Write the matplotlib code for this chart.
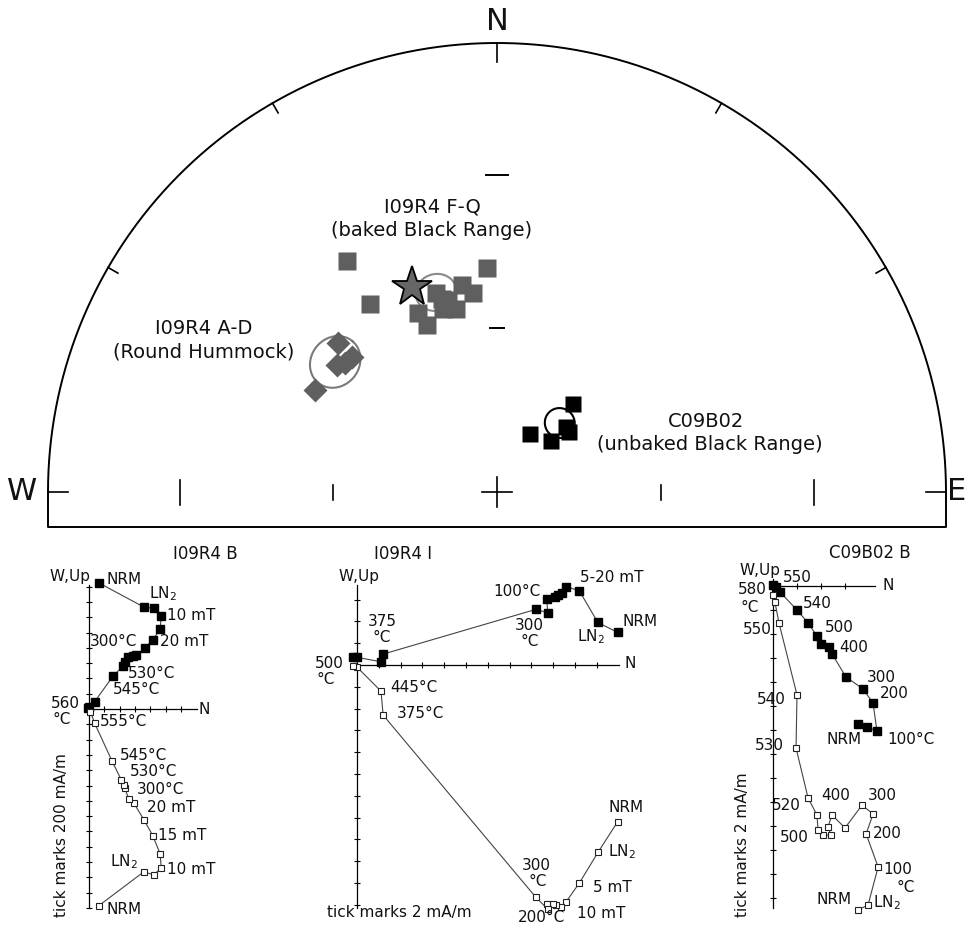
import numpy as np
import matplotlib
matplotlib.use('Agg')
import matplotlib.pyplot as plt

W, H = 968, 932
plt.rcParams['font.family'] = ['DejaVu Sans']

# ---------------- stereonet data (declination, inclination; deg) ----------------
fq_dec = [327.0, 326.0, 357.5, 343.0, 344.0, 350.4, 353.2, 336.2, 337.2, 343.6, 347.4, 345.7]
fq_inc = [38.6, 48.2, 48.6, 51.8, 53.2, 51.4, 53.2, 54.1, 56.9, 55.0, 55.6, 53.7]
fq_mean = (343.0, 51.6, 3.5)          # dec, inc, alpha95
star_dir = (337.5, 49.1)

ad_dec = [313.2, 313.0, 310.3, 308.5, 299.3]
ad_inc = [49.9, 53.7, 53.4, 52.5, 51.7]
ad_mean = (308.8, 51.8, 4.6)

c9_dec = [40.8, 29.7, 46.6, 46.7, 50.1]
c9_inc = [68.9, 77.9, 76.6, 72.8, 73.0]
c9_mean = (42.3, 73.1, 2.7)

# ---------------- Zijderveld data (mA/m) ----------------
# I09R4 B  (tick = 200 mA/m)
b_n_h = [130, 714, 856, 944, 930, 834, 726, 618, 574, 508, 466, 444, 314, 74, 0, -14]
b_w_h = [1648, 1334, 1314, 1214, 1040, 908, 792, 704, 692, 682, 618, 560, 430, 96, 30, 14]
b_n_v = [130, 714, 848, 944, 930, 834, 718, 586, 522, 466, 456, 422, 304, 74, 18]
b_up_v = [-2570, -2130, -2166, -2078, -1892, -1656, -1448, -1230, -1178, -1034, -992, -926, -686, -186, -34]

# I09R4 I  (tick = 2 mA/m)
i_n_h = [23.9, 22.1, 20.4, 19.2, 18.8, 18.4, 18.2, 17.4, 17.5, 16.4, 2.4, 2.2, 0.0, -0.4]
i_w_h = [3.0, 3.9, 6.8, 7.2, 6.6, 6.4, 6.2, 6.1, 4.8, 5.1, 1.0, 0.3, 0.7, 0.7]
i_n_v = [23.9, 22.1, 20.4, 19.2, 18.7, 18.3, 18.0, 17.4, 17.5, 16.4, 2.4, 2.2, 0.0, -0.4]
i_up_v = [-14.4, -17.2, -20.0, -21.7, -22.2, -22.0, -21.9, -21.9, -22.4, -21.3, -4.6, -2.4, -0.2, -0.1]

# C09B02 B  (tick = 2 mA/m)
c_n_h = [7.08, 7.84, 8.66, 8.34, 7.5, 6.08, 4.92, 4.66, 4.0, 3.66, 2.92, 2.0, 0.58, 0.24, 0.0]
c_w_h = [-11.5, -11.76, -12.08, -9.76, -8.58, -7.58, -5.66, -5.08, -4.84, -4.16, -3.08, -2.0, -0.5, -0.08, 0.08]
c_n_v = [7.08, 7.92, 8.76, 7.76, 8.34, 7.42, 6.0, 4.92, 4.58, 4.84, 4.16, 3.76, 3.66, 2.92, 1.92, 2.0, 0.5, 0.16, 0.0]
c_up_v = [-27.0, -26.58, -23.42, -20.66, -19.0, -18.26, -20.16, -19.08, -20.08, -20.76, -20.76, -20.34,
          -19.08, -17.66, -13.5, -9.08, -3.08, -1.34, -0.76]

fig = plt.figure(figsize=(W / 100, H / 100), dpi=100)


def T(x, y, s, ha='left', size=11, **kw):
    fig.text(x / W, 1 - y / H, s, ha=ha, va='center', fontsize=size, color='#111111', **kw)


def proj(dec, inc):
    d = np.radians(np.asarray(dec, float))
    r = np.sqrt(2) * np.sin(np.radians(90 - np.asarray(inc, float)) / 2)
    return r * np.sin(d), r * np.cos(d)


def small_circle(dec, inc, a95, n=240):
    d, i = np.radians(dec), np.radians(inc)
    c = np.array([np.cos(i) * np.cos(d), np.cos(i) * np.sin(d), np.sin(i)])
    u = np.array([-np.sin(d), np.cos(d), 0.0])
    v = np.cross(c, u)
    t = np.linspace(0, 2 * np.pi, n)
    a = np.radians(a95)
    p = np.cos(a) * c[:, None] + np.sin(a) * (np.cos(t) * u[:, None] + np.sin(t) * v[:, None])
    return proj(np.degrees(np.arctan2(p[1], p[0])), np.degrees(np.arcsin(p[2])))


# ---------------- stereonet ----------------
R = 449.0
cx, cy = 497.0, 492.0
top_px = 540
ax = fig.add_axes([0, 1 - top_px / H, 1, top_px / H])
ax.set_xlim(-cx / R, (W - cx) / R)
ax.set_ylim(-(top_px - cy) / R, cy / R)
ax.axis('off')

th = np.linspace(0, np.pi, 400)
ax.plot(np.cos(th), np.sin(th), color='k', lw=1.4)
yb = -35 / R
ax.plot([-1, -1, 1, 1], [0, yb, yb, 0], color='k', lw=1.4)
# edge ticks
for az in [30, 60, 300, 330]:
    a = np.radians(az)
    ax.plot([np.sin(a), 0.975 * np.sin(a)], [np.cos(a), 0.975 * np.cos(a)], color='k', lw=1.2)
ax.plot([0, 0], [1, 1 - 19 / R], color='k', lw=1.2)
ax.plot([-1, -1 + 20 / R], [0, 0], color='k', lw=1.2)
ax.plot([1, 1 - 20 / R], [0, 0], color='k', lw=1.2)
# centre cross
ax.plot([-15 / R, 15 / R], [0, 0], color='k', lw=1.2)
ax.plot([0, 0], [-15 / R, 15 / R], color='k', lw=1.2)
# inclination ticks (30 and 60 deg)
for inc, half in [(30, 12.5), (60, 7.5)]:
    rr = np.sqrt(2) * np.sin(np.radians(90 - inc) / 2)
    for s in (-1, 1):
        ax.plot([s * rr, s * rr], [-half / R, half / R], color='k', lw=1.2)
    ax.plot([-half / R * 0.9, half / R * 0.9], [rr, rr], color='k', lw=1.4)

gray = '#5f5f5f'
for (md, mi, a95), col in [(fq_mean, '#8a8a8a'), (ad_mean, '#7a7a7a'), (c9_mean, 'k')]:
    x, y = small_circle(md, mi, a95)
    ax.plot(x, y, color=col, lw=1.5, zorder=2)

x, y = proj(fq_dec, fq_inc)
ax.plot(x, y, ls='none', marker='s', ms=12.5, mfc=gray, mec='none', zorder=3)
x, y = proj(ad_dec, ad_inc)
ax.plot(x, y, ls='none', marker='D', ms=12, mfc=gray, mec='none', zorder=3)
x, y = proj(c9_dec, c9_inc)
ax.plot(x, y, ls='none', marker='s', ms=12, mfc='k', mec='none', zorder=3)
x, y = proj([star_dir[0]], [star_dir[1]])
ax.plot(x, y, ls='none', marker='*', ms=30, mfc='#666666', mec='k', mew=1.3, zorder=4)

T(497, 22, 'N', ha='center', size=22)
T(22, 492, 'W', ha='center', size=22)
T(947, 492, 'E', ha='left', size=22)

T(432, 207, 'I09R4 F-Q', ha='center', size=14)
T(432, 230, '(baked Black Range)', ha='center', size=14)
T(204, 328, 'I09R4 A-D', ha='center', size=14)
T(204, 352, '(Round Hummock)', ha='center', size=14)
T(706, 421, 'C09B02', ha='center', size=14)
T(710, 445, '(unbaked Black Range)', ha='center', size=14)


# ---------------- Zijderveld plots ----------------
def zij_axes(ox, oy, px_tick, tick, box):
    x0, y0, x1, y1 = box
    a = fig.add_axes([x0 / W, 1 - y1 / H, (x1 - x0) / W, (y1 - y0) / H])
    s = tick / px_tick
    a.set_xlim((x0 - ox) * s, (x1 - ox) * s)
    a.set_ylim((oy - y1) * s, (oy - y0) * s)
    a.axis('off')
    return a


def draw_frame(a, tick, xmax, ymin, ymax):
    a.plot([0, xmax], [0, 0], color='k', lw=0.9, zorder=1)
    a.plot([0, 0], [ymin, ymax], color='k', lw=0.9, zorder=1)
    xt = np.arange(tick, xmax - tick * 0.3, tick)
    a.plot(xt, np.zeros_like(xt), ls='none', marker='|', ms=4, mew=0.8, color='k')
    yt = np.arange(np.ceil(ymin / tick) * tick, ymax, tick)
    yt = yt[np.abs(yt) > 1e-9]
    a.plot(np.zeros_like(yt), yt, ls='none', marker='_', ms=4, mew=0.8, color='k')


def draw_data(a, nh, wh, nv, upv):
    a.plot(nh, wh, color='#444444', lw=0.8, zorder=2)
    a.plot(nh, wh, ls='none', marker='s', ms=5.5, mfc='k', mec='k', zorder=3)
    a.plot(nv, upv, color='#444444', lw=0.8, zorder=2)
    a.plot(nv, upv, ls='none', marker='s', ms=4.6, mfc='white', mec='#222222', mew=0.8, zorder=3)


# I09R4 B
a1 = zij_axes(89, 709, 15.3, 200, (30, 565, 270, 930))
draw_frame(a1, 200, 1410, -2600, 1620)
draw_data(a1, b_n_h, b_w_h, b_n_v, b_up_v)
T(205, 554, 'I09R4 B', ha='center', size=12)
T(90, 577, 'W,Up', ha='right')
T(106, 580, 'NRM')
T(149, 594, 'LN$_2$')
T(167, 615, '10 mT')
T(90, 642, '300°C')
T(160, 642, '20 mT')
T(128, 673, '530°C')
T(113, 690, '545°C')
T(80, 703, '560', ha='right')
T(52, 720, '°C')
T(100, 722, '555°C')
T(120, 755, '545°C')
T(130, 772, '530°C')
T(137, 790, '300°C')
T(147, 808, '20 mT')
T(158, 835, '15 mT')
T(110, 862, 'LN$_2$')
T(167, 870, '10 mT')
T(107, 909, 'NRM')
T(199, 709, 'N')
T(62, 835, 'tick marks 200 mA/m', ha='center', rotation=90)

# I09R4 I
a2 = zij_axes(357, 665, 21.8, 2, (300, 565, 680, 930))
draw_frame(a2, 2, 24.0, -22.3, 7.3)
draw_data(a2, i_n_h, i_w_h, i_n_v, i_up_v)
T(403, 554, 'I09R4 I', ha='center', size=12)
T(359, 577, 'W,Up', ha='center')
T(368, 622, '375')
T(372, 637, '°C')
T(493, 592, '100°C')
T(580, 578, '5-20 mT')
T(515, 625, '300')
T(520, 642, '°C')
T(577, 637, 'LN$_2$')
T(622, 622, 'NRM')
T(344, 664, '500', ha='right')
T(317, 680, '°C')
T(390, 688, '445°C')
T(397, 713, '375°C')
T(624, 664, 'N')
T(608, 808, 'NRM')
T(608, 852, 'LN$_2$')
T(593, 888, '5 mT')
T(577, 913, '10 mT')
T(522, 865, '300')
T(529, 882, '°C')
T(518, 918, '200°C')
T(327, 913, 'tick marks 2 mA/m')

# C09B02 B
a3 = zij_axes(773, 586, 24.0, 2, (700, 565, 968, 930))
draw_frame(a3, 2, 8.5, -26.8, 0.6)
draw_data(a3, c_n_h, c_w_h, c_n_v, c_up_v)
T(870, 553, 'C09B02 B', ha='center', size=12)
T(740, 570, 'W,Up')
T(783, 578, '550')
T(767, 590, '580', ha='right')
T(740, 607, '°C')
T(803, 603, '540')
T(743, 630, '550')
T(825, 628, '500')
T(839, 647, '400')
T(867, 677, '300')
T(880, 693, '200')
T(827, 739, 'NRM')
T(887, 739, '100°C')
T(757, 699, '540')
T(755, 746, '530')
T(772, 805, '520')
T(821, 795, '400')
T(868, 795, '300')
T(780, 838, '500')
T(873, 833, '200')
T(883, 869, '100')
T(896, 887, '°C')
T(817, 900, 'NRM')
T(873, 903, 'LN$_2$')
T(882, 586, 'N')
T(743, 845, 'tick marks 2 mA/m', ha='center', rotation=90)

fig.savefig('out.png', dpi=100)
